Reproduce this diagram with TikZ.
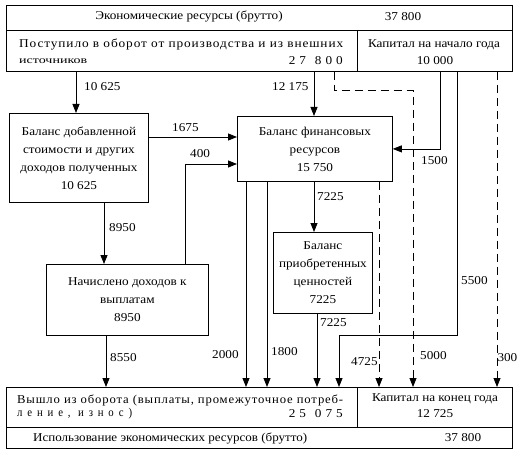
\documentclass[tikz,border=0pt]{standalone}
\usepackage{fontspec}
\setmainfont{Liberation Serif}[FakeStretch=1.1]
\newfontfamily\spfont{Liberation Serif}[LetterSpace=45]
\newfontfamily\lsfont{Liberation Serif}[LetterSpace=7,FakeStretch=1.05]
\usetikzlibrary{arrows.meta}
\tikzset{
  box/.style={draw, line width=0.8pt, inner sep=0pt, anchor=north west, align=center},
  lbl/.style={inner sep=0pt, anchor=west},
  txt/.style={inner sep=0pt},
  arr/.style={line width=0.8pt, -{Triangle[length=9pt,width=7pt]}},
  ln/.style={line width=0.8pt},
  dsh/.style={dash pattern=on 8pt off 5pt},
}
\begin{document}
\begin{tikzpicture}[x=1pt,y=-1pt,font=\fontsize{12}{18}\selectfont]
\useasboundingbox (0,0) rectangle (518,457);
% ---- top table
\node[box,minimum width=506pt,minimum height=25pt] (topA) at (6,5) {};
\node[box,minimum width=351pt,minimum height=41pt] (inA) at (6,30) {};
\node[box,minimum width=155pt,minimum height=41pt] (capA) at (357,30) {};
\node[txt] (t1) at (189,17) {Экономические ресурсы (брутто)};
\node[txt] (t2) at (403,17) {37 800};
\node[lbl] (t3) at (19,45) {\resizebox{324pt}{\height}{\lsfont Поступило в оборот от производства и из внешних}};
\node[lbl] (t4) at (19,61) {\resizebox{68pt}{\height}{\fontsize{10}{12}\selectfont источников}};
\node[txt,anchor=east] (t5) at (343,61) {2\hspace{4pt}7\hspace{9pt}8\hspace{4pt}0\hspace{4pt}0};
\node[txt] (t6) at (434,45) {Капитал на начало года};
\node[txt] (t7) at (435,61) {10 000};
% ---- middle boxes
\node[box,minimum width=139pt,minimum height=89pt] (bal) at (9,113)
  {Баланс добавленной\\стоимости и других\\доходов полученных\\10 625};
\node[box,minimum width=155pt,minimum height=65pt] (fin) at (237,116)
  {Баланс финансовых\\ресурсов\\15 750};
\node[box,minimum width=162pt,minimum height=71pt] (nach) at (46,264)
  {Начислено доходов к\\выплатам\\8950};
\node[box,minimum width=99pt,minimum height=81pt] (prio) at (273,232)
  {Баланс\\приобретенных\\ценностей\\7225};
% ---- bottom table
\node[box,minimum width=351pt,minimum height=40pt] (outA) at (6,387) {};
\node[box,minimum width=155pt,minimum height=40pt] (capB) at (357,387) {};
\node[box,minimum width=506pt,minimum height=21pt] (useA) at (6,427) {};
\node[lbl] (b1) at (17,400) {\resizebox{326pt}{\height}{\lsfont Вышло из оборота (выплаты, промежуточное потреб-}};
\node[lbl] (b2) at (17,414) {\resizebox{115pt}{\height}{\spfont ление, износ)}};
\node[txt,anchor=east] (b3) at (343,414) {2\hspace{4pt}5\hspace{9pt}0\hspace{4pt}7\hspace{4pt}5};
\node[txt] (b4) at (435,399) {Капитал на конец года};
\node[txt] (b5) at (435,414) {12 725};
\node[lbl] (b6) at (33,438) {\resizebox{274pt}{\height}{Использование экономических ресурсов (брутто)}};
\node[txt] (b7) at (463,438) {37 800};
% ---- helper coordinates
\coordinate (k5000) at (413,90);
\coordinate (k5000a) at (334,90);
\coordinate (k1500) at (440,148);
\coordinate (k5500) at (457,335);
\coordinate (k5500b) at (339,335);
\coordinate (k300) at (497,0);
\coordinate (k1675) at (200,137);
\coordinate (k400) at (185,164);
\coordinate (k8950) at (104,0);
\coordinate (k8550) at (106,0);
\coordinate (k2000) at (246,0);
\coordinate (k1800) at (267,0);
\coordinate (k7225a) at (314,0);
\coordinate (k7225b) at (317,0);
\coordinate (k4725) at (379,0);
\coordinate (k10625) at (76,0);
% ---- connectors
\draw[arr] (k10625 |- inA.south) -- (k10625 |- bal.north);
\draw[arr] (k7225a |- inA.south) -- (k7225a |- fin.north);
\draw[arr,dsh] (k5000a |- inA.south) -- (k5000a) -- (k5000) -- (k5000 |- capB.north);
\draw[arr] (k1500 |- capA.south) |- (fin.east);
\draw[arr] (k5500 |- capA.south) -- (k5500) -- (k5500b) -- (k5500b |- outA.north);
\draw[arr,dsh] (k300 |- capA.south) -- (k300 |- capB.north);
\draw[arr] (bal.east |- k1675) -- (fin.west |- k1675);
\draw[arr] (k400 |- nach.north) -- (k400) -- (fin.west |- k400);
\draw[arr] (k8950 |- bal.south) -- (k8950 |- nach.north);
\draw[arr] (k8550 |- nach.south) -- (k8550 |- outA.north);
\draw[arr] (k2000 |- fin.south) -- (k2000 |- outA.north);
\draw[arr] (k1800 |- fin.south) -- (k1800 |- outA.north);
\draw[arr] (k7225a |- fin.south) -- (k7225a |- prio.north);
\draw[arr] (k7225b |- prio.south) -- (k7225b |- outA.north);
\draw[arr,dsh] (k4725 |- fin.south) -- (k4725 |- capB.north);
% ---- connector labels
\node[lbl] (l1) at (84,87) {10 625};
\node[lbl] (l2) at (272,87) {12 175};
\node[lbl] (l3) at (172,128) {1675};
\node[lbl] (l4) at (190,154) {400};
\node[lbl] (l5) at (421,161) {1500};
\node[lbl] (l6) at (317,197) {7225};
\node[lbl] (l7) at (109,228) {8950};
\node[lbl] (l8) at (461,281) {5500};
\node[lbl] (l9) at (320,323) {7225};
\node[lbl] (l10) at (212,355) {2000};
\node[lbl] (l11) at (271,352) {1800};
\node[lbl] (l12) at (351,362) {4725};
\node[lbl] (l13) at (420,356) {5000};
\node[txt,anchor=east] (l14) at (517.5,358) {300};
\node[lbl] (l15) at (110,358) {8550};
\end{tikzpicture}
\end{document}
